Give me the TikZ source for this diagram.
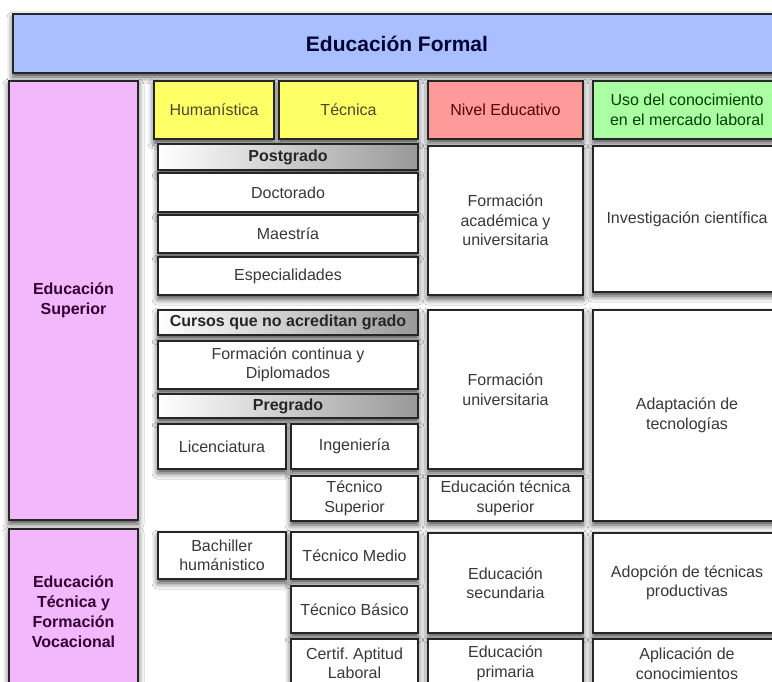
\documentclass[tikz,border=0pt]{standalone}
\usepackage{fontspec}
\setmainfont{Liberation Sans}
\usetikzlibrary{shadows.blur}
\definecolor{titleblue}{HTML}{AABFFF}
\definecolor{pinkl}{HTML}{F3B8FB}
\definecolor{yell}{HTML}{FFFF66}
\definecolor{redl}{HTML}{FF9A9A}
\definecolor{greenl}{HTML}{AAFFA2}
\newcommand\mybox[7]{\node[#1, minimum width={(#5-#3)*1pt}, minimum height={(#6-#4)*1pt}] (#2) at ({(#3+#5)/2},{(#4+#6)/2}) {#7};}
\tikzset{
  base/.style={draw=black!85, line width=1.6pt, inner sep=0pt, align=center,
    font=\fontsize{16}{19.5}\selectfont, text=black!78, fill=white,
    blur shadow={shadow xshift=0pt, shadow yshift=-4pt, shadow blur radius=6pt, shadow opacity=75}},
  whitebox/.style={base},
  headbox/.style={base, left color=white, right color=black!40, font=\bfseries\fontsize{16}{19.5}\selectfont, text=black!85},
  titlebox/.style={base, fill=titleblue, font=\bfseries\fontsize{21}{25}\selectfont, text=blue!20!black},
  pinkbox/.style={base, fill=pinkl, font=\bfseries\fontsize{16}{20}\selectfont, text=violet!40!black},
  yellowbox/.style={base, fill=yell, text=olive!40!black},
  redbox/.style={base, fill=redl, text=red!35!black},
  greenbox/.style={base, fill=greenl, text=green!25!black},
}
\begin{document}
\begin{tikzpicture}[x=1pt,y=-1pt]
\useasboundingbox (0,0) rectangle (772,682);
\fill[white] (0,0) rectangle (772,682);
\clip (0,0) rectangle (772,682);
\mybox{titlebox}{title}{13}{14}{781}{73}{Educación Formal}
\mybox{pinkbox}{sup}{9}{81}{138}{520}{Educación\\Superior}
\mybox{yellowbox}{hum}{154}{81}{274}{139}{Humanística}
\mybox{yellowbox}{tec}{279}{81}{418}{139}{Técnica}
\mybox{redbox}{nivel}{428}{81}{583}{139}{Nivel Educativo}
\mybox{greenbox}{uso}{593}{81}{781}{139}{Uso del conocimiento\\en el mercado laboral}
\mybox{headbox}{postg}{158}{144}{418}{170}{Postgrado}
\mybox{whitebox}{formacad}{428}{146}{583}{295}{Formación\\académica y\\universitaria}
\mybox{whitebox}{invest}{593}{146}{781}{292}{Investigación científica}
\mybox{whitebox}{doct}{158}{173}{418}{212}{Doctorado}
\mybox{whitebox}{maes}{158}{215}{418}{253}{Maestría}
\mybox{whitebox}{espec}{158}{257}{418}{295}{Especialidades}
\mybox{headbox}{cursos}{158}{310}{418}{335}{Cursos que no acreditan grado}
\mybox{whitebox}{formuniv}{428}{310}{583}{469}{Formación\\universitaria}
\mybox{whitebox}{adapt}{593}{310}{781}{521}{Adaptación de\\tecnologías}
\mybox{whitebox}{formcont}{158}{341}{418}{389}{Formación continua y\\Diplomados}
\mybox{headbox}{pregr}{158}{394}{418}{418}{Pregrado}
\mybox{whitebox}{lic}{158}{424}{286}{469}{Licenciatura}
\mybox{whitebox}{ing}{291}{424}{418}{469}{Ingeniería}
\mybox{whitebox}{tecsup}{291}{476}{418}{521}{Técnico\\Superior}
\mybox{whitebox}{edtecsup}{428}{476}{583}{521}{Educación técnica\\superior}
\mybox{pinkbox}{tecvoc}{9}{529}{138}{695}{Educación\\Técnica y\\Formación\\Vocacional}
\mybox{whitebox}{bach}{158}{532}{286}{579}{Bachiller\\humánistico}
\mybox{whitebox}{tecmed}{291}{532}{418}{579}{Técnico Medio}
\mybox{whitebox}{edsec}{428}{533}{583}{633}{Educación\\secundaria}
\mybox{whitebox}{adop}{593}{533}{781}{633}{Adopción de técnicas\\productivas}
\mybox{whitebox}{tecbas}{291}{586}{418}{633}{Técnico Básico}
\mybox{whitebox}{certif}{291}{639}{418}{688}{Certif.\ Aptitud\\Laboral}
\mybox{whitebox}{edprim}{428}{639}{583}{688}{Educación\\primaria}
\mybox{whitebox}{aplic}{593}{639}{781}{688}{Aplicación de\\conocimientos}
\end{tikzpicture}
\end{document}
